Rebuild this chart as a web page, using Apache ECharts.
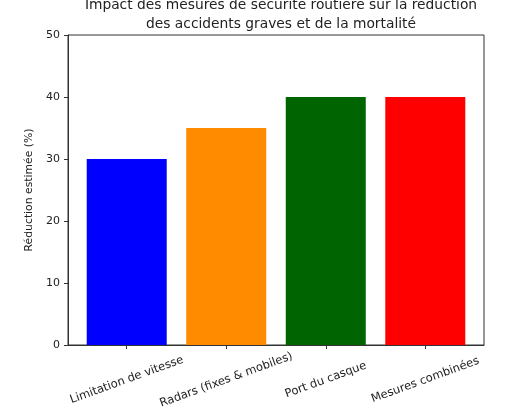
<!DOCTYPE html>
<html>
<head>
<meta charset="utf-8">
<script src="https://cdn.jsdelivr.net/npm/echarts@6/dist/echarts.min.js"></script>
<style>
  html, body { margin: 0; padding: 0; background: #fff; }
  #chart { width: 507px; height: 415px; }
</style>
</head>
<body>
<div id="chart"></div>
<script>
// données
var categories = ['Limitation de vitesse', 'Radars (fixes & mobiles)', 'Port du casque', 'Mesures combinées'];
var reductions = [30, 35, 40, 40];
var barColors = ['#0000ff', '#ff8c00', '#006400', '#ff0000'];
var yTicks = [0, 10, 20, 30, 40, 50];

var myChart = echarts.init(document.getElementById('chart'));

var barData = [];
for (var i = 0; i < reductions.length; i++) {
    barData.push({
        value: [i, reductions[i]],
        itemStyle: { color: barColors[i] }
    });
}

myChart.setOption({
    animation: false,
    textStyle: { fontFamily: 'DejaVu Sans' },
    title: {
        text: 'Impact des mesures de sécurité routière sur la réduction\ndes accidents graves et de la mortalité',
        left: 276,
        top: -9,
        textAlign: 'center',
        textStyle: {
            fontFamily: 'DejaVu Sans',
            fontSize: 13.8,
            fontWeight: 'normal',
            color: '#222',
            lineHeight: 19
        }
    },
    grid: {
        left: 68,
        right: 23,
        top: 35,
        bottom: 70,
        show: true,
        borderColor: '#333',
        borderWidth: 1,
        backgroundColor: 'transparent'
    },
    xAxis: {
        type: 'value',
        min: -0.59,
        max: 3.59,
        splitLine: { show: false },
        axisLine: { show: true, onZero: false, lineStyle: { color: '#333' } },
        axisTick: {
            show: true,
            length: 4,
            customValues: [0, 1, 2, 3],
            lineStyle: { color: '#333' }
        },
        axisLabel: {
            customValues: [0, 1, 2, 3],
            rotate: 20,
            align: 'center',
            verticalAlign: 'middle',
            margin: 35,
            fontSize: 11.5,
            color: '#222',
            formatter: function (v) { return categories[Math.round(v)]; }
        }
    },
    yAxis: {
        type: 'value',
        min: yTicks[0],
        max: yTicks[yTicks.length - 1],
        interval: 10,
        name: 'Réduction estimée (%)',
        nameLocation: 'middle',
        nameGap: 33,
        nameTextStyle: { fontSize: 10.8, color: '#222' },
        splitLine: { show: false },
        axisLine: { show: true, onZero: false, lineStyle: { color: '#333' } },
        axisTick: { show: true, length: 4, lineStyle: { color: '#333' } },
        axisLabel: { fontSize: 11, color: '#222', margin: 8 }
    },
    series: [{
        type: 'bar',
        data: barData,
        barWidth: 80
    }]
});
</script>
</body>
</html>
